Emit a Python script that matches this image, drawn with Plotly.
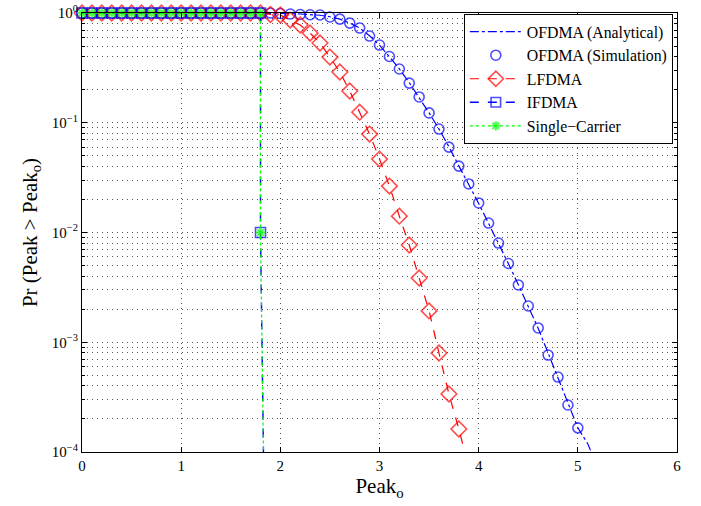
import plotly.graph_objects as go

# ---------------- data ----------------
x_grid = [round(i * 0.1, 1) for i in range(0, 53)]  # 0.0 .. 5.2

ofdma_analytical = [1.0] * 20 + [
    0.995, 0.99, 0.98, 0.97, 0.955, 0.925, 0.88, 0.81, 0.73, 0.62,   # 2.0 - 2.9
    0.51, 0.40, 0.31, 0.232, 0.171, 0.123, 0.0875, 0.0605, 0.0405, 0.0275,  # 3.0 - 3.9
    0.0184, 0.0121, 0.0080, 0.0052, 0.00335, 0.00213, 0.00134, 0.00080, 0.00048, 0.00028,  # 4.0 - 4.9
    0.000166, 0.000119, 0.000072,  # 5.0 - 5.2
]

ofdma_sim_x = [round(i * 0.1, 1) for i in range(0, 51)]  # 0.0 .. 5.0
ofdma_sim = [1.0] * 20 + [
    0.99, 0.98, 0.97, 0.965, 0.96, 0.92, 0.88, 0.81, 0.73, 0.617,
    0.511, 0.402, 0.309, 0.230, 0.172, 0.123, 0.0877, 0.060, 0.0403, 0.0277,
    0.0186, 0.0122, 0.00802, 0.00522, 0.00333, 0.00214, 0.00135, 0.000765, 0.000482, 0.000268,
    0.000166,
]

lfdma_x = [round(i * 0.1, 1) for i in range(0, 40)]  # 0.0 .. 3.9
lfdma = [1.0] * 19 + [
    0.97, 0.96, 0.863, 0.778, 0.657, 0.533, 0.397, 0.290, 0.195, 0.125,  # 1.9 - 2.8
    0.0789, 0.0467, 0.0265, 0.0141, 0.00769, 0.00385, 0.00193, 0.000798, 0.000338, 0.000162,  # 2.9 - 3.8
    0.000072,  # 3.9
]

ifdma_x = [round(i * 0.1, 1) for i in range(0, 19)] + [1.8, 1.9]
ifdma = [1.0] * 19 + [0.01, 2e-9]

sc_x = [round(i * 0.1, 1) for i in range(0, 19)] + [1.8, 1.9]
single_carrier = [1.0] * 19 + [0.01, 2e-9]

y_tick_vals = [1e-4, 1e-3, 1e-2, 1e-1, 1]
y_tick_text = ["10<sup>−4</sup>", "10<sup>−3</sup>", "10<sup>−2</sup>", "10<sup>−1</sup>", "10<sup>0</sup>"]
y_minor_vals = [k * 10.0 ** d for d in range(-4, 0) for k in range(2, 10)]
x_tick_vals = [0, 1, 2, 3, 4, 5, 6]

YMIN = 1e-4
BLUE = "#0000FF"
RED = "#FF0000"
GREEN = "#00FF00"
FONT = "Liberation Serif, Times New Roman, serif"
GRIDC = "#555555"
GRIDDASH = "1px,4px"


def sizes(ys, s):
    return [s if y >= YMIN * 0.999 else 0 for y in ys]


fig = go.Figure()

fig.add_trace(go.Scatter(
    x=x_grid, y=ofdma_analytical, mode="lines", name="OFDMA (Analytical)",
    line=dict(color=BLUE, width=1.2, dash="dashdot"),
))
fig.add_trace(go.Scatter(
    x=ofdma_sim_x, y=ofdma_sim, mode="markers", name="OFDMA (Simulation)",
    marker=dict(symbol="circle-open", size=sizes(ofdma_sim, 10), color=BLUE, line=dict(width=1.6, color=BLUE)),
    cliponaxis=False,
))
fig.add_trace(go.Scatter(
    x=lfdma_x, y=lfdma, mode="lines+markers", name="LFDMA",
    line=dict(color=RED, width=1.2, dash="dash"),
    marker=dict(symbol="diamond-open", size=sizes(lfdma, 12), color=RED, line=dict(width=1.6, color=RED)),
    cliponaxis=False,
))
fig.add_trace(go.Scatter(
    x=ifdma_x, y=ifdma, mode="lines+markers", name="IFDMA",
    line=dict(color=BLUE, width=1.4, dash="dash"),
    marker=dict(symbol="square-open", size=sizes(ifdma, 10), color=BLUE, line=dict(width=1.6, color=BLUE)),
    cliponaxis=False,
))
fig.add_trace(go.Scatter(
    x=sc_x, y=single_carrier, mode="lines+markers", name="Single−Carrier",
    line=dict(color=GREEN, width=1.2, dash="dot"),
    marker=dict(symbol="asterisk-open", size=sizes(single_carrier, 8), color=GREEN, line=dict(width=2, color=GREEN)),
    cliponaxis=False,
))

axis_common = dict(
    showline=True, linecolor="black", linewidth=1, mirror="allticks",
    ticks="inside", tickcolor="black", ticklen=5,
    showgrid=True, gridcolor=GRIDC, griddash=GRIDDASH, gridwidth=1,
    zeroline=False, automargin=False, ticklabeloverflow="allow",
    tickfont=dict(family=FONT, size=15, color="black"),
)

fig.update_xaxes(
    range=[0, 6], tickmode="array", tickvals=x_tick_vals,
    title=dict(text="Peak<sub>o</sub>", font=dict(family=FONT, size=21, color="black"), standoff=5),
    **axis_common,
)
fig.update_yaxes(
    type="log", range=[-4, 0.0004], tickmode="array", tickvals=y_tick_vals, ticktext=y_tick_text,
    minor=dict(tickmode="array", tickvals=y_minor_vals, ticks="inside", ticklen=3, tickcolor="black",
               showgrid=True, gridcolor=GRIDC, griddash=GRIDDASH, gridwidth=1),
    title=dict(text="Pr (Peak > Peak<sub>o</sub>)", font=dict(family=FONT, size=21, color="black"), standoff=8),
    **axis_common,
)

fig.update_layout(
    width=701, height=506,
    margin=dict(l=82, r=24, t=13, b=54),
    paper_bgcolor="white", plot_bgcolor="white",
    showlegend=True,
    legend=dict(
        x=0.993, y=0.998, xanchor="right", yanchor="top",
        bgcolor="white", bordercolor="black", borderwidth=1,
        font=dict(family=FONT, size=15.8, color="black"),
        itemwidth=52,
    ),
)

fig.write_html(
    "out.html",
    config={"displayModeBar": False},
    post_script="document.body.style.margin='0px';document.body.style.overflow='hidden';",
)
